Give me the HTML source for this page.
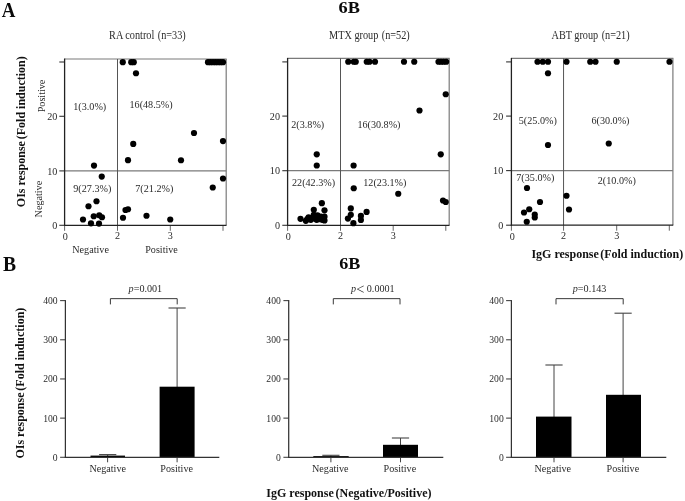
<!DOCTYPE html>
<html><head><meta charset="utf-8"><title>Figure 6B</title>
<style>html,body{margin:0;padding:0;background:#fff}svg{display:block}text{font-family:"Liberation Serif","Times New Roman",serif}</style>
</head><body>
<svg width="685" height="501" viewBox="0 0 685 501">
<rect width="685" height="501" fill="#fff"/>
<text transform="translate(1.8,16.7) scale(1,1.085)" font-size="18.9" font-weight="bold" fill="#0a0a0a">A</text>
<text transform="translate(3.0,270.5) scale(1,1.045)" font-size="19.6" font-weight="bold" fill="#0a0a0a">B</text>
<text transform="translate(338.5,12.6) scale(1,0.9)" font-size="18.3" font-weight="bold" fill="#0a0a0a">6B</text>
<text transform="translate(339.3,269.3) scale(1,0.91)" font-size="18.1" font-weight="bold" fill="#0a0a0a">6B</text>
<line x1="64.6" y1="59.0" x2="226.7" y2="59.0" stroke="#7a7a7a" stroke-width="1.2"/>
<line x1="226.2" y1="59.0" x2="226.2" y2="225.3" stroke="#7a7a7a" stroke-width="1.2"/>
<line x1="64.6" y1="170.9" x2="226.2" y2="170.9" stroke="#7a7a7a" stroke-width="1.2"/>
<line x1="117.5" y1="59.0" x2="117.5" y2="225.3" stroke="#555" stroke-width="1.0"/>
<line x1="59.3" y1="62.0" x2="64.6" y2="62.0" stroke="#333" stroke-width="1.1"/>
<line x1="59.3" y1="116.3" x2="64.6" y2="116.3" stroke="#333" stroke-width="1.1"/>
<line x1="59.3" y1="170.9" x2="64.6" y2="170.9" stroke="#333" stroke-width="1.1"/>
<line x1="59.3" y1="225.3" x2="64.6" y2="225.3" stroke="#333" stroke-width="1.1"/>
<line x1="64.6" y1="225.3" x2="64.6" y2="230.8" stroke="#666" stroke-width="1.0"/>
<line x1="117.5" y1="225.3" x2="117.5" y2="230.8" stroke="#666" stroke-width="1.0"/>
<line x1="170.3" y1="225.3" x2="170.3" y2="230.8" stroke="#666" stroke-width="1.0"/>
<line x1="223" y1="225.3" x2="223" y2="230.8" stroke="#666" stroke-width="1.0"/>
<line x1="64.6" y1="58.5" x2="64.6" y2="225.9" stroke="#222" stroke-width="1.3"/>
<line x1="63.99999999999999" y1="225.3" x2="226.5" y2="225.3" stroke="#222" stroke-width="1.3"/>
<text transform="translate(57.3,119.89999999999999) scale(1,1.08)" font-size="10.15" text-anchor="end" fill="#2a2a2a" >20</text>
<text transform="translate(57.3,174.5) scale(1,1.08)" font-size="10.15" text-anchor="end" fill="#2a2a2a" >10</text>
<text transform="translate(57.3,228.9) scale(1,1.08)" font-size="10.15" text-anchor="end" fill="#2a2a2a" >0</text>
<text transform="translate(65.39999999999999,239.5) scale(1,1.08)" font-size="10.15" text-anchor="middle" fill="#2a2a2a" >0</text>
<text transform="translate(117.5,239.2) scale(1,1.08)" font-size="10.15" text-anchor="middle" fill="#2a2a2a" >2</text>
<text transform="translate(170.3,239.2) scale(1,1.08)" font-size="10.15" text-anchor="middle" fill="#2a2a2a" >3</text>
<text transform="translate(109.1,39.2) scale(1,1.13)" font-size="10.25" fill="#2a2a2a">RA control <tspan dx="0.9">(n=33)</tspan></text>
<text transform="translate(73.3,109.5) scale(1,1.08)" font-size="10.15" text-anchor="start" fill="#2a2a2a" >1(3.0%)</text>
<text transform="translate(129.5,107.5) scale(1,1.08)" font-size="10.15" text-anchor="start" fill="#2a2a2a" >16(48.5%)</text>
<text transform="translate(73.3,192) scale(1,1.08)" font-size="10.15" text-anchor="start" fill="#2a2a2a" >9(27.3%)</text>
<text transform="translate(135.3,192) scale(1,1.08)" font-size="10.15" text-anchor="start" fill="#2a2a2a" >7(21.2%)</text>
<g fill="#000">
<circle cx="122.75" cy="62.2" r="3.1"/>
<circle cx="131.25" cy="62.2" r="3.1"/>
<circle cx="133.75" cy="62.2" r="3.1"/>
<circle cx="136" cy="73.25" r="3.1"/>
<circle cx="194" cy="133" r="3.1"/>
<circle cx="223" cy="141.1" r="3.1"/>
<circle cx="133.25" cy="143.9" r="3.1"/>
<circle cx="128" cy="160.2" r="3.1"/>
<circle cx="181" cy="160.25" r="3.1"/>
<circle cx="94" cy="165.6" r="3.1"/>
<circle cx="101.75" cy="176.6" r="3.1"/>
<circle cx="223" cy="178.5" r="3.1"/>
<circle cx="212.75" cy="187.5" r="3.1"/>
<circle cx="96.5" cy="201.25" r="3.1"/>
<circle cx="88.5" cy="206.25" r="3.1"/>
<circle cx="125.5" cy="210" r="3.1"/>
<circle cx="128" cy="209.25" r="3.1"/>
<circle cx="146.5" cy="215.75" r="3.1"/>
<circle cx="93.75" cy="216.25" r="3.1"/>
<circle cx="99.25" cy="215.25" r="3.1"/>
<circle cx="102" cy="217.25" r="3.1"/>
<circle cx="123" cy="217.75" r="3.1"/>
<circle cx="83" cy="219.5" r="3.1"/>
<circle cx="170.25" cy="219.5" r="3.1"/>
<circle cx="91" cy="223.3" r="3.1"/>
<circle cx="99" cy="223.6" r="3.1"/>
<circle cx="208.0" cy="62.2" r="3.1"/>
<circle cx="210.5" cy="62.2" r="3.1"/>
<circle cx="213.0" cy="62.2" r="3.1"/>
<circle cx="215.5" cy="62.2" r="3.1"/>
<circle cx="218.0" cy="62.2" r="3.1"/>
<circle cx="220.5" cy="62.2" r="3.1"/>
<circle cx="223.0" cy="62.2" r="3.1"/>
</g>
<line x1="287.6" y1="58.4" x2="449.7" y2="58.4" stroke="#7a7a7a" stroke-width="1.2"/>
<line x1="449.2" y1="58.4" x2="449.2" y2="225.3" stroke="#7a7a7a" stroke-width="1.2"/>
<line x1="287.6" y1="170.7" x2="449.2" y2="170.7" stroke="#7a7a7a" stroke-width="1.2"/>
<line x1="340.5" y1="58.4" x2="340.5" y2="225.3" stroke="#555" stroke-width="1.0"/>
<line x1="282.3" y1="61.9" x2="287.6" y2="61.9" stroke="#333" stroke-width="1.1"/>
<line x1="282.3" y1="116.1" x2="287.6" y2="116.1" stroke="#333" stroke-width="1.1"/>
<line x1="282.3" y1="170.7" x2="287.6" y2="170.7" stroke="#333" stroke-width="1.1"/>
<line x1="282.3" y1="225.3" x2="287.6" y2="225.3" stroke="#333" stroke-width="1.1"/>
<line x1="287.6" y1="225.3" x2="287.6" y2="230.8" stroke="#666" stroke-width="1.0"/>
<line x1="340.5" y1="225.3" x2="340.5" y2="230.8" stroke="#666" stroke-width="1.0"/>
<line x1="393.2" y1="225.3" x2="393.2" y2="230.8" stroke="#666" stroke-width="1.0"/>
<line x1="445.8" y1="225.3" x2="445.8" y2="230.8" stroke="#666" stroke-width="1.0"/>
<line x1="287.6" y1="57.9" x2="287.6" y2="225.9" stroke="#222" stroke-width="1.3"/>
<line x1="287.0" y1="225.3" x2="449.5" y2="225.3" stroke="#222" stroke-width="1.3"/>
<text transform="translate(280,119.69999999999999) scale(1,1.08)" font-size="10.15" text-anchor="end" fill="#2a2a2a" >20</text>
<text transform="translate(280,174.29999999999998) scale(1,1.08)" font-size="10.15" text-anchor="end" fill="#2a2a2a" >10</text>
<text transform="translate(280,228.9) scale(1,1.08)" font-size="10.15" text-anchor="end" fill="#2a2a2a" >0</text>
<text transform="translate(288.40000000000003,239.5) scale(1,1.08)" font-size="10.15" text-anchor="middle" fill="#2a2a2a" >0</text>
<text transform="translate(340.5,239.2) scale(1,1.08)" font-size="10.15" text-anchor="middle" fill="#2a2a2a" >2</text>
<text transform="translate(393.2,239.2) scale(1,1.08)" font-size="10.15" text-anchor="middle" fill="#2a2a2a" >3</text>
<text transform="translate(329.1,39.2) scale(1,1.13)" font-size="10.25" fill="#2a2a2a">MTX group <tspan dx="0.9">(n=52)</tspan></text>
<text transform="translate(291.3,128.2) scale(1,1.08)" font-size="10.15" text-anchor="start" fill="#2a2a2a" >2(3.8%)</text>
<text transform="translate(357.4,128.2) scale(1,1.08)" font-size="10.15" text-anchor="start" fill="#2a2a2a" >16(30.8%)</text>
<text transform="translate(292.0,185.8) scale(1,1.08)" font-size="10.15" text-anchor="start" fill="#2a2a2a" >22(42.3%)</text>
<text transform="translate(363.3,185.8) scale(1,1.08)" font-size="10.15" text-anchor="start" fill="#2a2a2a" >12(23.1%)</text>
<g fill="#000">
<circle cx="348.25" cy="61.75" r="3.1"/>
<circle cx="353.75" cy="61.75" r="3.1"/>
<circle cx="355.75" cy="61.75" r="3.1"/>
<circle cx="366.75" cy="61.75" r="3.1"/>
<circle cx="369.5" cy="61.75" r="3.1"/>
<circle cx="375" cy="61.75" r="3.1"/>
<circle cx="404" cy="61.75" r="3.1"/>
<circle cx="414.25" cy="61.75" r="3.1"/>
<circle cx="438.5" cy="61.75" r="3.1"/>
<circle cx="441" cy="61.75" r="3.1"/>
<circle cx="443.5" cy="61.75" r="3.1"/>
<circle cx="446.2" cy="61.75" r="3.1"/>
<circle cx="419.5" cy="110.5" r="3.1"/>
<circle cx="445.75" cy="94.25" r="3.1"/>
<circle cx="440.75" cy="154.3" r="3.1"/>
<circle cx="316.75" cy="154.3" r="3.1"/>
<circle cx="316.75" cy="165.5" r="3.1"/>
<circle cx="353.6" cy="165.5" r="3.1"/>
<circle cx="353.75" cy="188.25" r="3.1"/>
<circle cx="398.25" cy="193.75" r="3.1"/>
<circle cx="443" cy="200.5" r="3.1"/>
<circle cx="445.75" cy="202" r="3.1"/>
<circle cx="321.85" cy="203.2" r="3.1"/>
<circle cx="313.8" cy="209.8" r="3.1"/>
<circle cx="324.5" cy="210.3" r="3.1"/>
<circle cx="300.5" cy="218.8" r="3.1"/>
<circle cx="305.8" cy="220.8" r="3.1"/>
<circle cx="308.6" cy="217.3" r="3.1"/>
<circle cx="310.8" cy="219.8" r="3.1"/>
<circle cx="313.8" cy="214.8" r="3.1"/>
<circle cx="314.8" cy="218.5" r="3.1"/>
<circle cx="317.5" cy="215.4" r="3.1"/>
<circle cx="318.5" cy="219.2" r="3.1"/>
<circle cx="321" cy="216.7" r="3.1"/>
<circle cx="324.5" cy="216.7" r="3.1"/>
<circle cx="324.5" cy="220.4" r="3.1"/>
<circle cx="307.3" cy="219.2" r="3.1"/>
<circle cx="312.3" cy="217.9" r="3.1"/>
<circle cx="316" cy="217" r="3.1"/>
<circle cx="319.7" cy="218.8" r="3.1"/>
<circle cx="322.2" cy="219.8" r="3.1"/>
<circle cx="309.8" cy="218.3" r="3.1"/>
<circle cx="316.6" cy="219.8" r="3.1"/>
<circle cx="314.3" cy="216.7" r="3.1"/>
<circle cx="350.8" cy="208.4" r="3.1"/>
<circle cx="366.6" cy="211.9" r="3.1"/>
<circle cx="350.8" cy="214.8" r="3.1"/>
<circle cx="360.9" cy="215.9" r="3.1"/>
<circle cx="347.9" cy="218.6" r="3.1"/>
<circle cx="360.9" cy="220" r="3.1"/>
<circle cx="353.4" cy="223.2" r="3.1"/>
</g>
<line x1="511.4" y1="58.4" x2="673.4" y2="58.4" stroke="#7a7a7a" stroke-width="1.2"/>
<line x1="672.9" y1="58.4" x2="672.9" y2="225.2" stroke="#7a7a7a" stroke-width="1.2"/>
<line x1="511.4" y1="170.6" x2="672.9" y2="170.6" stroke="#7a7a7a" stroke-width="1.2"/>
<line x1="563.55" y1="58.4" x2="563.55" y2="225.2" stroke="#555" stroke-width="1.0"/>
<line x1="506.09999999999997" y1="61.9" x2="511.4" y2="61.9" stroke="#333" stroke-width="1.1"/>
<line x1="506.09999999999997" y1="116.1" x2="511.4" y2="116.1" stroke="#333" stroke-width="1.1"/>
<line x1="506.09999999999997" y1="170.6" x2="511.4" y2="170.6" stroke="#333" stroke-width="1.1"/>
<line x1="506.09999999999997" y1="225.2" x2="511.4" y2="225.2" stroke="#333" stroke-width="1.1"/>
<line x1="511.4" y1="225.2" x2="511.4" y2="230.7" stroke="#666" stroke-width="1.0"/>
<line x1="563.55" y1="225.2" x2="563.55" y2="230.7" stroke="#666" stroke-width="1.0"/>
<line x1="616.7" y1="225.2" x2="616.7" y2="230.7" stroke="#666" stroke-width="1.0"/>
<line x1="669.3" y1="225.2" x2="669.3" y2="230.7" stroke="#666" stroke-width="1.0"/>
<line x1="511.4" y1="57.9" x2="511.4" y2="225.79999999999998" stroke="#222" stroke-width="1.3"/>
<line x1="510.79999999999995" y1="225.2" x2="673.1999999999999" y2="225.2" stroke="#222" stroke-width="1.3"/>
<text transform="translate(503.2,119.69999999999999) scale(1,1.08)" font-size="10.15" text-anchor="end" fill="#2a2a2a" >20</text>
<text transform="translate(503.2,174.2) scale(1,1.08)" font-size="10.15" text-anchor="end" fill="#2a2a2a" >10</text>
<text transform="translate(503.2,228.79999999999998) scale(1,1.08)" font-size="10.15" text-anchor="end" fill="#2a2a2a" >0</text>
<text transform="translate(512.1999999999999,239.5) scale(1,1.08)" font-size="10.15" text-anchor="middle" fill="#2a2a2a" >0</text>
<text transform="translate(563.55,239.2) scale(1,1.08)" font-size="10.15" text-anchor="middle" fill="#2a2a2a" >2</text>
<text transform="translate(616.7,239.2) scale(1,1.08)" font-size="10.15" text-anchor="middle" fill="#2a2a2a" >3</text>
<text transform="translate(551.5,39.2) scale(1,1.13)" font-size="10.25" fill="#2a2a2a">ABT group <tspan dx="0.9">(n=21)</tspan></text>
<text transform="translate(518.8,123.7) scale(1,1.08)" font-size="10.15" text-anchor="start" fill="#2a2a2a" >5(25.0%)</text>
<text transform="translate(591.5,123.7) scale(1,1.08)" font-size="10.15" text-anchor="start" fill="#2a2a2a" >6(30.0%)</text>
<text transform="translate(516.3,181.2) scale(1,1.08)" font-size="10.15" text-anchor="start" fill="#2a2a2a" >7(35.0%)</text>
<text transform="translate(597.8,183.7) scale(1,1.08)" font-size="10.15" text-anchor="start" fill="#2a2a2a" >2(10.0%)</text>
<g fill="#000">
<circle cx="537.5" cy="61.75" r="3.1"/>
<circle cx="542.75" cy="61.75" r="3.1"/>
<circle cx="548" cy="61.75" r="3.1"/>
<circle cx="566.5" cy="61.75" r="3.1"/>
<circle cx="590.25" cy="61.75" r="3.1"/>
<circle cx="595.5" cy="61.75" r="3.1"/>
<circle cx="616.75" cy="61.75" r="3.1"/>
<circle cx="669.5" cy="61.75" r="3.1"/>
<circle cx="548" cy="73.25" r="3.1"/>
<circle cx="548" cy="145" r="3.1"/>
<circle cx="608.75" cy="143.5" r="3.1"/>
<circle cx="527" cy="188" r="3.1"/>
<circle cx="566.5" cy="195.75" r="3.1"/>
<circle cx="540" cy="202" r="3.1"/>
<circle cx="569" cy="209.5" r="3.1"/>
<circle cx="529.25" cy="209.25" r="3.1"/>
<circle cx="524" cy="212.5" r="3.1"/>
<circle cx="534.75" cy="214.5" r="3.1"/>
<circle cx="534.75" cy="217.5" r="3.1"/>
<circle cx="526.75" cy="221.75" r="3.1"/>
</g>
<text transform="translate(72.3,253.0) scale(1,1.08)" font-size="10.15" text-anchor="start" fill="#2a2a2a" >Negative</text>
<text transform="translate(145.2,253.0) scale(1,1.08)" font-size="10.15" text-anchor="start" fill="#2a2a2a" >Positive</text>
<text x="531.4" y="258.2" font-size="12" text-anchor="start" font-weight="bold" fill="#111" >IgG response<tspan dx="-1.7"> (Fold</tspan> induction)</text>
<text transform="translate(25.3,207.2) rotate(-90)" font-size="12" font-weight="bold" fill="#111">OIs response<tspan dx="-1.2"> (Fold</tspan> induction)</text>
<text transform="translate(44.6,112.3) rotate(-90) scale(1,1.08)" font-size="10.15" fill="#2a2a2a">Positive</text>
<text transform="translate(42.1,217.4) rotate(-90) scale(1,1.08)" font-size="10.15" fill="#2a2a2a">Negative</text>
<line x1="60.10000000000001" y1="457.3" x2="65.4" y2="457.3" stroke="#444" stroke-width="1.1"/>
<text transform="translate(57.6,460.8) scale(0.95,1.08)" font-size="10.15" text-anchor="end" fill="#2a2a2a">0</text>
<line x1="60.10000000000001" y1="418.125" x2="65.4" y2="418.125" stroke="#444" stroke-width="1.1"/>
<text transform="translate(57.6,421.625) scale(0.95,1.08)" font-size="10.15" text-anchor="end" fill="#2a2a2a">100</text>
<line x1="60.10000000000001" y1="378.95000000000005" x2="65.4" y2="378.95000000000005" stroke="#444" stroke-width="1.1"/>
<text transform="translate(57.6,382.45000000000005) scale(0.95,1.08)" font-size="10.15" text-anchor="end" fill="#2a2a2a">200</text>
<line x1="60.10000000000001" y1="339.77500000000003" x2="65.4" y2="339.77500000000003" stroke="#444" stroke-width="1.1"/>
<text transform="translate(57.6,343.27500000000003) scale(0.95,1.08)" font-size="10.15" text-anchor="end" fill="#2a2a2a">300</text>
<line x1="60.10000000000001" y1="300.6" x2="65.4" y2="300.6" stroke="#444" stroke-width="1.1"/>
<text transform="translate(57.6,304.1) scale(0.95,1.08)" font-size="10.15" text-anchor="end" fill="#2a2a2a">400</text>
<line x1="107.6" y1="457.3" x2="107.6" y2="462.3" stroke="#444" stroke-width="1.0"/>
<line x1="177.1" y1="457.3" x2="177.1" y2="462.3" stroke="#444" stroke-width="1.0"/>
<line x1="107.7" y1="454.6" x2="107.7" y2="456" stroke="#444" stroke-width="1.0"/>
<line x1="99.10000000000001" y1="454.6" x2="116.3" y2="454.6" stroke="#444" stroke-width="1.1"/>
<line x1="177.1" y1="308" x2="177.1" y2="387" stroke="#444" stroke-width="1.0"/>
<line x1="168.5" y1="308" x2="185.7" y2="308" stroke="#444" stroke-width="1.1"/>
<rect x="90.5" y="455.6" width="34.5" height="1.6999999999999886" fill="#000"/>
<rect x="159.6" y="386.7" width="35.0" height="70.60000000000002" fill="#000"/>
<line x1="65.4" y1="300.1" x2="65.4" y2="457.90000000000003" stroke="#333" stroke-width="1.25"/>
<line x1="64.80000000000001" y1="457.3" x2="219.3" y2="457.3" stroke="#333" stroke-width="1.25"/>
<polyline points="110.4,304.4 110.4,298.65 177.2,298.65 177.2,304.4" fill="none" stroke="#383838" stroke-width="1.0"/>
<text transform="translate(128.6,292) scale(1,1.08)" font-size="10.15" fill="#2a2a2a"><tspan font-style="italic">p</tspan>=0.001</text>
<text transform="translate(89.4,471.6) scale(1,1.08)" font-size="10.15" text-anchor="start" fill="#2a2a2a" >Negative</text>
<text transform="translate(160.3,471.6) scale(1,1.08)" font-size="10.15" text-anchor="start" fill="#2a2a2a" >Positive</text>
<line x1="283.4" y1="457.3" x2="288.7" y2="457.3" stroke="#444" stroke-width="1.1"/>
<text transform="translate(280.79999999999995,460.8) scale(0.95,1.08)" font-size="10.15" text-anchor="end" fill="#2a2a2a">0</text>
<line x1="283.4" y1="418.125" x2="288.7" y2="418.125" stroke="#444" stroke-width="1.1"/>
<text transform="translate(280.79999999999995,421.625) scale(0.95,1.08)" font-size="10.15" text-anchor="end" fill="#2a2a2a">100</text>
<line x1="283.4" y1="378.95000000000005" x2="288.7" y2="378.95000000000005" stroke="#444" stroke-width="1.1"/>
<text transform="translate(280.79999999999995,382.45000000000005) scale(0.95,1.08)" font-size="10.15" text-anchor="end" fill="#2a2a2a">200</text>
<line x1="283.4" y1="339.77500000000003" x2="288.7" y2="339.77500000000003" stroke="#444" stroke-width="1.1"/>
<text transform="translate(280.79999999999995,343.27500000000003) scale(0.95,1.08)" font-size="10.15" text-anchor="end" fill="#2a2a2a">300</text>
<line x1="283.4" y1="300.6" x2="288.7" y2="300.6" stroke="#444" stroke-width="1.1"/>
<text transform="translate(280.79999999999995,304.1) scale(0.95,1.08)" font-size="10.15" text-anchor="end" fill="#2a2a2a">400</text>
<line x1="330.9" y1="457.3" x2="330.9" y2="462.3" stroke="#444" stroke-width="1.0"/>
<line x1="400.5" y1="457.3" x2="400.5" y2="462.3" stroke="#444" stroke-width="1.0"/>
<line x1="330.9" y1="455.3" x2="330.9" y2="457" stroke="#444" stroke-width="1.0"/>
<line x1="322.29999999999995" y1="455.3" x2="339.5" y2="455.3" stroke="#444" stroke-width="1.1"/>
<line x1="400.5" y1="438" x2="400.5" y2="445" stroke="#444" stroke-width="1.0"/>
<line x1="391.9" y1="438" x2="409.1" y2="438" stroke="#444" stroke-width="1.1"/>
<rect x="313.3" y="456.1" width="35.39999999999998" height="1.1999999999999886" fill="#000"/>
<rect x="383" y="444.8" width="35" height="12.5" fill="#000"/>
<line x1="288.7" y1="300.1" x2="288.7" y2="457.90000000000003" stroke="#333" stroke-width="1.25"/>
<line x1="288.09999999999997" y1="457.3" x2="443.3" y2="457.3" stroke="#333" stroke-width="1.25"/>
<polyline points="333.3,304.4 333.3,298.65 400,298.65 400,304.4" fill="none" stroke="#383838" stroke-width="1.0"/>
<text transform="translate(351,292) scale(1,1.08)" font-size="10.15" fill="#2a2a2a"><tspan font-style="italic">p</tspan><tspan dx="0.2" dy="1.4" font-size="14.4">&lt;</tspan><tspan dx="2.4" dy="-1.4">0.0001</tspan></text>
<text transform="translate(312.0,471.6) scale(1,1.08)" font-size="10.15" text-anchor="start" fill="#2a2a2a" >Negative</text>
<text transform="translate(383.5,471.6) scale(1,1.08)" font-size="10.15" text-anchor="start" fill="#2a2a2a" >Positive</text>
<line x1="506.09999999999997" y1="457.3" x2="511.4" y2="457.3" stroke="#444" stroke-width="1.1"/>
<text transform="translate(503.7,460.8) scale(0.95,1.08)" font-size="10.15" text-anchor="end" fill="#2a2a2a">0</text>
<line x1="506.09999999999997" y1="418.125" x2="511.4" y2="418.125" stroke="#444" stroke-width="1.1"/>
<text transform="translate(503.7,421.625) scale(0.95,1.08)" font-size="10.15" text-anchor="end" fill="#2a2a2a">100</text>
<line x1="506.09999999999997" y1="378.95000000000005" x2="511.4" y2="378.95000000000005" stroke="#444" stroke-width="1.1"/>
<text transform="translate(503.7,382.45000000000005) scale(0.95,1.08)" font-size="10.15" text-anchor="end" fill="#2a2a2a">200</text>
<line x1="506.09999999999997" y1="339.77500000000003" x2="511.4" y2="339.77500000000003" stroke="#444" stroke-width="1.1"/>
<text transform="translate(503.7,343.27500000000003) scale(0.95,1.08)" font-size="10.15" text-anchor="end" fill="#2a2a2a">300</text>
<line x1="506.09999999999997" y1="300.6" x2="511.4" y2="300.6" stroke="#444" stroke-width="1.1"/>
<text transform="translate(503.7,304.1) scale(0.95,1.08)" font-size="10.15" text-anchor="end" fill="#2a2a2a">400</text>
<line x1="554" y1="457.3" x2="554" y2="462.3" stroke="#444" stroke-width="1.0"/>
<line x1="623.1" y1="457.3" x2="623.1" y2="462.3" stroke="#444" stroke-width="1.0"/>
<line x1="554" y1="365" x2="554" y2="417" stroke="#444" stroke-width="1.0"/>
<line x1="545.4" y1="365" x2="562.6" y2="365" stroke="#444" stroke-width="1.1"/>
<line x1="623.1" y1="313.2" x2="623.1" y2="395" stroke="#444" stroke-width="1.0"/>
<line x1="614.5" y1="313.2" x2="631.7" y2="313.2" stroke="#444" stroke-width="1.1"/>
<rect x="536.0" y="416.6" width="35.5" height="40.69999999999999" fill="#000"/>
<rect x="606" y="394.8" width="35" height="62.5" fill="#000"/>
<line x1="511.4" y1="300.1" x2="511.4" y2="457.90000000000003" stroke="#333" stroke-width="1.25"/>
<line x1="510.79999999999995" y1="457.3" x2="666.3" y2="457.3" stroke="#333" stroke-width="1.25"/>
<polyline points="556,304.4 556,298.65 623.2,298.65 623.2,304.4" fill="none" stroke="#383838" stroke-width="1.0"/>
<text transform="translate(572.8,292) scale(1,1.08)" font-size="10.15" fill="#2a2a2a"><tspan font-style="italic">p</tspan>=0.143</text>
<text transform="translate(534.5,471.6) scale(1,1.08)" font-size="10.15" text-anchor="start" fill="#2a2a2a" >Negative</text>
<text transform="translate(606.5,471.6) scale(1,1.08)" font-size="10.15" text-anchor="start" fill="#2a2a2a" >Positive</text>
<text x="266.3" y="497.2" font-size="12" text-anchor="start" font-weight="bold" fill="#111" >IgG response<tspan dx="-1.2"> (Negative/Positive)</tspan></text>
<text transform="translate(24.2,458.6) rotate(-90)" font-size="12" font-weight="bold" fill="#111">OIs response<tspan dx="-1.2"> (Fold</tspan> induction)</text>
</svg>
</body></html>
